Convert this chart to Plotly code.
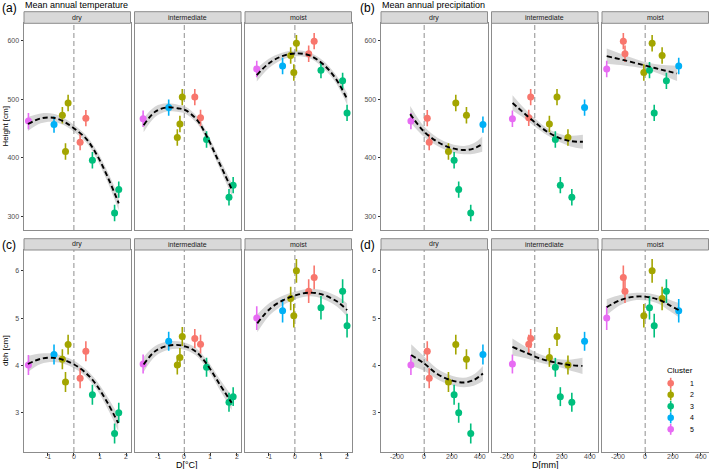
import plotly.graph_objects as go

# ---------------- data ----------------
SITES = ["dry", "intermediate", "moist"]
CLUSTER = [5, 4, 2, 2, 2, 1, 1, 3, 3, 3]
CLUSTER_LABELS = ["1", "2", "3", "4", "5"]

# transfer distances, mean annual temperature [°C]
DT_DRY = [-1.74, -0.76, -0.22, -0.32, -0.44, 0.24, 0.46, 0.71, 1.56, 1.72]
DT_INT = [-1.58, -0.60, -0.08, -0.17, -0.27, 0.40, 0.62, 0.85, 1.71, 1.87]
DT_MOIST = [-1.46, -0.47, 0.06, -0.04, -0.16, 0.53, 0.74, 1.00, 1.83, 2.00]
# transfer distances, mean annual precipitation [mm]
DP_DRY = [-96, 424, 228, 175, 305, 36, 22, 216, 336, 249]
DP_INT = [-161, 360, 161, 106, 240, -29, -43, 149, 268, 185]
DP_MOIST = [-278, 242, 50, -10, 122, -146, -158, 31, 153, 65]
# height [cm]
H_DRY = [463, 457, 494, 411, 473, 427, 468, 396, 306, 346]
H_INT = [467, 486, 504, 458, 435, 504, 468.5, 431.5, 333, 353.6]
H_MOIST = [552, 557, 596, 546, 575, 578, 599.5, 550, 531.7, 477]
# dbh [cm]
DBH_DRY = [4.01, 4.23, 4.44, 3.65, 4.13, 3.73, 4.30, 3.38, 2.56, 3.00]
DBH_INT = [4.03, 4.51, 4.61, 4.17, 4.01, 4.57, 4.45, 3.96, 3.22, 3.34]
DBH_MOIST = [5.00, 5.155, 6.00, 5.05, 5.415, 5.57, 5.86, 5.22, 5.57, 4.84]
# error bar half-lengths
H_ERR = [14, 14, 14]
DBH_ERR = [0.21, 0.20, 0.25]

# fitted curves (read at sample positions) with ribbon half-widths
# (a) height ~ D[°C]
FT_A_DRY_X = [-1.76, -1.27, -0.78, -0.37, 0.01, 0.46, 0.85, 1.29, 1.72]
FT_A_DRY_Y = [458, 467.6, 468.6, 461.8, 450.5, 433.4, 407.8, 368, 322.5]
FT_A_DRY_SE = [12, 8.5, 7, 6, 6, 6, 7, 9, 12]
FT_A_INT_X = [-1.56, -1.12, -0.67, -0.22, 0.04, 0.49, 0.87, 1.32, 1.83]
FT_A_INT_Y = [456, 478.9, 486.3, 484.6, 481.7, 464.7, 436, 393.5, 345]
FT_A_INT_SE = [12, 9, 7, 6, 6, 6, 7, 8, 11]
FT_A_MOI_X = [-1.46, -1.0, -0.49, 0.02, 0.54, 1.05, 1.56, 2.01]
FT_A_MOI_Y = [541.5, 561.4, 573.9, 578.5, 575.6, 561.4, 535.8, 500]
FT_A_MOI_SE = [11, 8, 6, 5, 5, 6, 7, 10]
# (b) height ~ D[mm]
FT_B_DRY_X = [-101, 0, 96, 191, 288, 360, 419]
FT_B_DRY_Y = [474.9, 444.7, 427.6, 417.4, 413.5, 416.4, 423.7]
FT_B_DRY_SE = [14, 9, 7, 7, 7, 9, 13]
FT_B_INT_X = [-160, -88, -4, 91, 176, 259, 348]
FT_B_INT_Y = [494, 478.8, 461.8, 444.7, 434.5, 428.8, 427.6]
FT_B_INT_SE = [13, 9, 7, 6, 7, 9, 12]
FT_B_MOI_X = [-278, -153, -9, 110, 230]
FT_B_MOI_Y = [573.9, 567, 558.5, 551.2, 544.4]
FT_B_MOI_SE = [13, 9, 6, 8, 13]
# (c) dbh ~ D[°C]
FT_C_DRY_X = [-1.76, -1.27, -0.78, -0.37, 0.01, 0.46, 0.85, 1.29, 1.70]
FT_C_DRY_Y = [4.03, 4.14, 4.16, 4.11, 4.02, 3.84, 3.60, 3.21, 2.78]
FT_C_DRY_SE = [0.17, 0.11, 0.09, 0.08, 0.08, 0.08, 0.09, 0.12, 0.17]
FT_C_INT_X = [-1.56, -1.12, -0.6, -0.09, 0.42, 0.87, 1.32, 1.81]
FT_C_INT_Y = [4.02, 4.30, 4.42, 4.42, 4.30, 4.02, 3.63, 3.21]
FT_C_INT_SE = [0.16, 0.11, 0.09, 0.08, 0.08, 0.09, 0.11, 0.15]
FT_C_MOI_X = [-1.44, -0.95, -0.44, 0.08, 0.59, 1.10, 1.62, 2.0]
FT_C_MOI_Y = [4.89, 5.20, 5.38, 5.49, 5.54, 5.49, 5.35, 5.17]
FT_C_MOI_SE = [0.19, 0.13, 0.10, 0.08, 0.08, 0.09, 0.11, 0.14]
# (d) dbh ~ D[mm]
FT_D_DRY_X = [-94, 0, 94, 190, 285, 357, 424]
FT_D_DRY_Y = [4.22, 4.04, 3.82, 3.69, 3.64, 3.69, 3.83]
FT_D_DRY_SE = [0.23, 0.15, 0.11, 0.10, 0.10, 0.12, 0.16]
FT_D_INT_X = [-161, -62, 34, 153, 249, 345]
FT_D_INT_Y = [4.39, 4.27, 4.15, 4.06, 4.01, 3.99]
FT_D_INT_SE = [0.18, 0.12, 0.09, 0.08, 0.11, 0.17]
FT_D_MOI_X = [-278, -182, -86, 10, 106, 177, 242]
FT_D_MOI_Y = [5.23, 5.38, 5.45, 5.45, 5.38, 5.27, 5.17]
FT_D_MOI_SE = [0.17, 0.11, 0.08, 0.08, 0.09, 0.12, 0.15]

TEMP_TICKS = [-1, 0, 1, 2]
PREC_TICKS = [-200, 0, 200, 400]
HEIGHT_TICKS = [300, 400, 500, 600]
DBH_TICKS = [3, 4, 5, 6]

# ---------------- layout geometry (pixels) ----------------
W, H = 709, 469
COLORS = {1: "#F8766D", 2: "#A3A500", 3: "#00BF7D", 4: "#00B0F6", 5: "#E76BF3"}
FONT = "Liberation Sans, Arial, sans-serif"
TICKCOL = "#4D4D4D"
BORDER = "#8C8C8C"

A_COLS = [(24, 130.5), (134.5, 241), (245, 351.5)]
B_COLS = [(381, 487.5), (491.5, 598), (602, 708.5)]
ROWS = [(23.3, 230), (250, 452)]
STRIPS = [(11.7, 23.3), (238.7, 250)]

T_RANGE = [-1.91, 2.17]
P_RANGE = [-312, 457]
H_RANGE = [277, 630]
D_RANGE = [2.17, 6.44]


def xd(px):
    return px / W


def yd(py):
    return 1 - py / H


panels = []
site_T = [DT_DRY, DT_INT, DT_MOIST]
site_P = [DP_DRY, DP_INT, DP_MOIST]
site_H = [H_DRY, H_INT, H_MOIST]
site_D = [DBH_DRY, DBH_INT, DBH_MOIST]
fits = {
    "a": [(FT_A_DRY_X, FT_A_DRY_Y, FT_A_DRY_SE), (FT_A_INT_X, FT_A_INT_Y, FT_A_INT_SE), (FT_A_MOI_X, FT_A_MOI_Y, FT_A_MOI_SE)],
    "b": [(FT_B_DRY_X, FT_B_DRY_Y, FT_B_DRY_SE), (FT_B_INT_X, FT_B_INT_Y, FT_B_INT_SE), (FT_B_MOI_X, FT_B_MOI_Y, FT_B_MOI_SE)],
    "c": [(FT_C_DRY_X, FT_C_DRY_Y, FT_C_DRY_SE), (FT_C_INT_X, FT_C_INT_Y, FT_C_INT_SE), (FT_C_MOI_X, FT_C_MOI_Y, FT_C_MOI_SE)],
    "d": [(FT_D_DRY_X, FT_D_DRY_Y, FT_D_DRY_SE), (FT_D_INT_X, FT_D_INT_Y, FT_D_INT_SE), (FT_D_MOI_X, FT_D_MOI_Y, FT_D_MOI_SE)],
}

n = 0
for key, row, cols, xs_site, ys_site, errs, xr, yr, xt, yt in [
    ("a", 0, A_COLS, site_T, site_H, H_ERR, T_RANGE, H_RANGE, TEMP_TICKS, HEIGHT_TICKS),
    ("b", 0, B_COLS, site_P, site_H, H_ERR, P_RANGE, H_RANGE, PREC_TICKS, HEIGHT_TICKS),
    ("c", 1, A_COLS, site_T, site_D, DBH_ERR, T_RANGE, D_RANGE, TEMP_TICKS, DBH_TICKS),
    ("d", 1, B_COLS, site_P, site_D, DBH_ERR, P_RANGE, D_RANGE, PREC_TICKS, DBH_TICKS),
]:
    for s in range(3):
        n += 1
        panels.append(dict(n=n, key=key, row=row, col=cols[s], site=s, x=xs_site[s], y=ys_site[s],
                           err=errs[s], xr=xr, yr=yr, xt=xt, yt=yt, fit=fits[key][s]))

fig = go.Figure()
shapes = []
annotations = []
layout = {}

for p in panels:
    n = p["n"]
    xa = "x" if n == 1 else f"x{n}"
    ya = "y" if n == 1 else f"y{n}"
    fx, fy, fse = p["fit"]
    lo = [v - e for v, e in zip(fy, fse)]
    hi = [v + e for v, e in zip(fy, fse)]
    # ribbon
    fig.add_trace(go.Scatter(x=fx, y=lo, mode="lines", line=dict(width=0, shape="spline"),
                             hoverinfo="skip", showlegend=False, xaxis=xa, yaxis=ya))
    fig.add_trace(go.Scatter(x=fx, y=hi, mode="lines", line=dict(width=0, shape="spline"),
                             fill="tonexty", fillcolor="rgba(153,153,153,0.4)",
                             hoverinfo="skip", showlegend=False, xaxis=xa, yaxis=ya))
    # points by cluster
    for c in [1, 2, 3, 4, 5]:
        idx = [i for i, cl in enumerate(CLUSTER) if cl == c]
        fig.add_trace(go.Scatter(
            x=[p["x"][i] for i in idx], y=[p["y"][i] for i in idx], mode="markers",
            marker=dict(size=7, color=COLORS[c]),
            error_y=dict(type="constant", value=p["err"], color=COLORS[c], thickness=1.6, width=0),
            showlegend=False, xaxis=xa, yaxis=ya, name=str(c)))
    # fitted curve
    fig.add_trace(go.Scatter(x=fx, y=fy, mode="lines",
                             line=dict(color="black", width=1.9, dash="5px,3px", shape="spline"),
                             showlegend=False, xaxis=xa, yaxis=ya))

    l, r = p["col"]
    top, bot = ROWS[p["row"]]
    first = p["site"] == 0
    bottom = p["row"] == 1
    layout["xaxis" if n == 1 else f"xaxis{n}"] = dict(
        domain=[xd(l), xd(r)], range=p["xr"], anchor=ya, showgrid=False, zeroline=False,
        showline=True, mirror=True, linecolor=BORDER, linewidth=1,
        tickvals=p["xt"], showticklabels=False, ticks="outside" if bottom else "",
        ticklen=2.5, tickcolor="#333333", tickwidth=1)
    layout["yaxis" if n == 1 else f"yaxis{n}"] = dict(
        domain=[yd(bot), yd(top)], range=p["yr"], anchor=xa, showgrid=False, zeroline=False,
        showline=True, mirror=True, linecolor=BORDER, linewidth=1,
        tickvals=p["yt"], showticklabels=first, ticks="outside" if first else "",
        ticklen=2.5, tickcolor="#333333", tickwidth=1,
        tickfont=dict(family=FONT, size=7, color=TICKCOL))
    # bottom-row x tick labels, placed at the axis' tick values just under the panel
    if bottom:
        for v in p["xt"]:
            annotations.append(dict(text=f"{v:g}", xref=xa, yref="paper", x=v, y=yd(456.8),
                                    showarrow=False, xanchor="center", yanchor="middle",
                                    font=dict(family=FONT, size=7, color=TICKCOL)))
    # dashed zero line
    shapes.append(dict(type="line", xref=xa, yref=f"{ya} domain", x0=0, x1=0, y0=0, y1=1,
                       line=dict(color="#A8A8A8", width=1.3, dash="5px,3px"), layer="below"))
    # strip
    st, sb = STRIPS[p["row"]]
    shapes.append(dict(type="rect", xref="paper", yref="paper", x0=xd(l), x1=xd(r),
                       y0=yd(sb), y1=yd(st), fillcolor="#D9D9D9",
                       line=dict(color=BORDER, width=1)))
    annotations.append(dict(text=SITES[p["site"]], xref="paper", yref="paper",
                            x=xd((l + r) / 2), y=yd((st + sb) / 2), showarrow=False,
                            xanchor="center", yanchor="middle",
                            font=dict(family=FONT, size=7, color="#1A1A1A")))

# titles and panel letters
for txt, x, y, size, anchor in [
    ("(a)", 9, 8.5, 12, "center"), ("(b)", 367, 8.5, 12, "center"),
    ("(c)", 9, 245, 12, "center"), ("(d)", 367, 245, 12, "center"),
]:
    annotations.append(dict(text=txt, xref="paper", yref="paper", x=xd(x), y=yd(y),
                            showarrow=False, xanchor=anchor, yanchor="middle",
                            font=dict(family=FONT, size=size, color="black")))
for txt, x in [("Mean annual temperature", 23), ("Mean annual precipitation", 380)]:
    annotations.append(dict(text=txt, xref="paper", yref="paper", x=xd(x), y=yd(4.6),
                            showarrow=False, xanchor="left", yanchor="middle",
                            font=dict(family=FONT, size=9, color="black")))
# axis titles
annotations.append(dict(text="Height [cm]", xref="paper", yref="paper", x=xd(5), y=yd(126.5),
                        showarrow=False, textangle=-90, xanchor="center", yanchor="middle",
                        font=dict(family=FONT, size=8, color="black")))
annotations.append(dict(text="dbh [cm]", xref="paper", yref="paper", x=xd(5), y=yd(351),
                        showarrow=False, textangle=-90, xanchor="center", yanchor="middle",
                        font=dict(family=FONT, size=8, color="black")))
annotations.append(dict(text="D[°C]", xref="paper", yref="paper", x=xd(187.5), y=yd(465),
                        showarrow=False, xanchor="center", yanchor="middle",
                        font=dict(family=FONT, size=9, color="black")))
annotations.append(dict(text="D[mm]", xref="paper", yref="paper", x=xd(545), y=yd(465),
                        showarrow=False, xanchor="center", yanchor="middle",
                        font=dict(family=FONT, size=9, color="black")))

# legend (drawn manually)
annotations.append(dict(text="Cluster", xref="paper", yref="paper", x=xd(664.5), y=yd(370.7),
                        showarrow=False, xanchor="left", yanchor="middle",
                        font=dict(family=FONT, size=8, color="black")))
for i, lab in enumerate(CLUSTER_LABELS):
    cy = 383.3 + 11.5 * i
    col = COLORS[i + 1]
    shapes.append(dict(type="line", xref="paper", yref="paper", x0=xd(670.7), x1=xd(670.7),
                       y0=yd(cy - 5.5), y1=yd(cy + 5.5), line=dict(color=col, width=1.6)))
    shapes.append(dict(type="circle", xref="paper", yref="paper", x0=xd(667.4), x1=xd(674.0),
                       y0=yd(cy + 3.3), y1=yd(cy - 3.3), fillcolor=col, line=dict(width=0)))
    annotations.append(dict(text=lab, xref="paper", yref="paper", x=xd(687.5), y=yd(cy),
                            showarrow=False, xanchor="left", yanchor="middle",
                            font=dict(family=FONT, size=7, color="black")))

fig.update_layout(width=W, height=H, margin=dict(l=0, r=0, t=0, b=0),
                  paper_bgcolor="white", plot_bgcolor="white", showlegend=False,
                  shapes=shapes, annotations=annotations, **layout)

fig.write_html("out.html", config={"displayModeBar": False},
               post_script="document.body.style.margin='0';document.body.style.padding='0';"
                           "document.documentElement.style.overflow='hidden';")
